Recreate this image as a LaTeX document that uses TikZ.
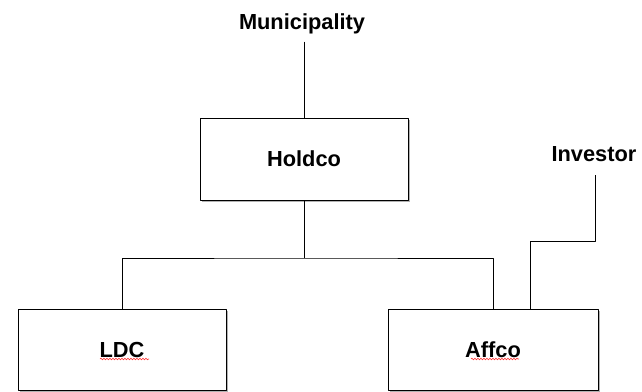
\documentclass[tikz,border=0pt]{standalone}
\usepackage{fontspec}
\setmainfont{Liberation Sans}
\usetikzlibrary{shadows,decorations.pathmorphing}
\begin{document}
\begin{tikzpicture}[line join=round,x=1pt,y=-1pt,line width=.8pt]
    \tikzset{label style/.style={font=\fontsize{21.8}{26}\selectfont\bfseries,inner sep=4pt},
        box style/.style={draw,line width=1pt,fill=white,minimum width=208pt,minimum height=82pt,label style,
            drop shadow={shadow xshift=1.5pt,shadow yshift=-1.5pt,fill=gray!60,opacity=1}},
        spell style/.style={red!80,line width=.6pt,decorate,decoration={snake,amplitude=.8pt,segment length=3pt}}}
    \useasboundingbox (0,0) rectangle (642,391);
    % owners
    \node[label style] (muni) at (302,24) {Municipality};
    \node[label style] (investor) at (594,154) {Investor};
    % companies
    \node[box style] (holdco) at (304,159) {Holdco};
    \node[box style,minimum height=81pt] (ldc) at (122,349.5) {LDC};
    \node[box style,minimum width=210pt,minimum height=81pt] (affco) at (493,349.5) {Affco};
    \draw[spell style] (100,359) -- (149,359);
    \draw[spell style] (471,359) -- (519,359);
    % ownership lines
    \coordinate (bar) at (304,258);
    \coordinate (kink) at (530,241);
    \draw (muni.south -| holdco.north) ++(0,3) -- (holdco.north);
    \draw (holdco) -- (bar);
    \draw (ldc) |- (bar) -| (affco);
    \draw (investor.south) ++(1,9) |- (kink) -- (kink |- affco.north);
\end{tikzpicture}
\end{document}
